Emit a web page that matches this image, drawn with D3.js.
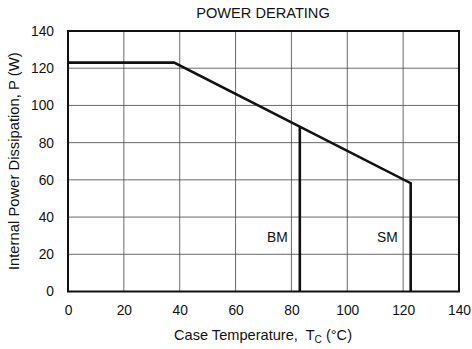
<!DOCTYPE html>
<html><head><meta charset="utf-8">
<script src="https://cdn.jsdelivr.net/npm/d3@7"></script>
<style>
html,body{margin:0;padding:0;background:#fff;}
text{font-family:"Liberation Sans",Arial,Helvetica,sans-serif;fill:#111;white-space:pre;}
</style></head>
<body>
<svg id="c" width="472" height="349"></svg>
<script>
// Data
const xTicks = [0, 20, 40, 60, 80, 100, 120, 140];
const yTicks = [0, 20, 40, 60, 80, 100, 120, 140];
const smTemp = [0, 38, 122.7, 122.7];
const smPower = [123, 123, 58.2, 0];
const bmTemp = [83, 83];
const bmPower = [88.5, 0];
const labels = ["BM", "SM"];

const W = 472, H = 349;
const m = {l: 68, r: 13, t: 31, b: 57.5};
const svg = d3.select("#c");
const x = d3.scaleLinear().domain([0, 140]).range([m.l, W - m.r]);
const y = d3.scaleLinear().domain([0, 140]).range([H - m.b, m.t]);

// grid
const g = svg.append("g");
g.selectAll("line.vx").data(xTicks).join("line")
  .attr("x1", d => x(d)).attr("x2", d => x(d))
  .attr("y1", y(0)).attr("y2", y(140))
  .attr("stroke", "#444").attr("stroke-width", 0.8);
g.selectAll("line.hy").data(yTicks).join("line")
  .attr("y1", d => y(d)).attr("y2", d => y(d))
  .attr("x1", x(0)).attr("x2", x(140))
  .attr("stroke", "#444").attr("stroke-width", 0.8);

// axes (labels only)
const xa = svg.append("g").attr("transform", `translate(0,${y(0)})`)
  .call(d3.axisBottom(x).tickValues(xTicks).tickSize(0).tickPadding(14));
xa.select(".domain").remove();
xa.selectAll("text").attr("font-size", 13.8).attr("font-family", "Liberation Sans, Arial, sans-serif").attr("fill", "#111");
const ya = svg.append("g").attr("transform", `translate(${x(0)},0)`)
  .call(d3.axisLeft(y).tickValues(yTicks).tickSize(0).tickPadding(14));
ya.select(".domain").remove();
ya.selectAll("text").attr("font-size", 13.8).attr("font-family", "Liberation Sans, Arial, sans-serif").attr("fill", "#111");

// frame
svg.append("rect").attr("x", x(0)).attr("y", y(140))
  .attr("width", x(140) - x(0)).attr("height", y(0) - y(140))
  .attr("fill", "none").attr("stroke", "#111").attr("stroke-width", 2);

// data lines
const line = d3.line().x(d => x(d[0])).y(d => y(d[1]));
svg.append("path").datum(d3.zip(smTemp, smPower)).attr("d", line)
  .attr("fill", "none").attr("stroke", "#111").attr("stroke-width", 2.6).attr("stroke-linejoin", "miter");
svg.append("path").datum(d3.zip(bmTemp, bmPower)).attr("d", line)
  .attr("fill", "none").attr("stroke", "#111").attr("stroke-width", 2.6);

// series labels
svg.append("text").attr("x", x(bmTemp[0]) - 12).attr("y", y(26.5))
  .attr("text-anchor", "end").attr("font-size", 13.8).text(labels[0]);
svg.append("text").attr("x", x(smTemp[2]) - 13).attr("y", y(26.5))
  .attr("text-anchor", "end").attr("font-size", 13.8).text(labels[1]);

// title
svg.append("text").attr("x", 263).attr("y", 18).attr("text-anchor", "middle")
  .attr("font-size", 14.6).text("POWER DERATING");

// x title
const xt = svg.append("text").attr("x", 263).attr("y", 340).attr("text-anchor", "middle").attr("font-size", 14.6);
xt.append("tspan").text("Case Temperature,  T");
xt.append("tspan").attr("font-size", 10).attr("dy", 3).text("C");
xt.append("tspan").attr("dy", -3).text(" (°C)");

// y title
svg.append("text").attr("transform", `translate(19,${(y(0) + y(140)) / 2}) rotate(-90)`)
  .attr("text-anchor", "middle").attr("font-size", 14.8)
  .text("Internal Power Dissipation, P (W)");
</script>
</body></html>
